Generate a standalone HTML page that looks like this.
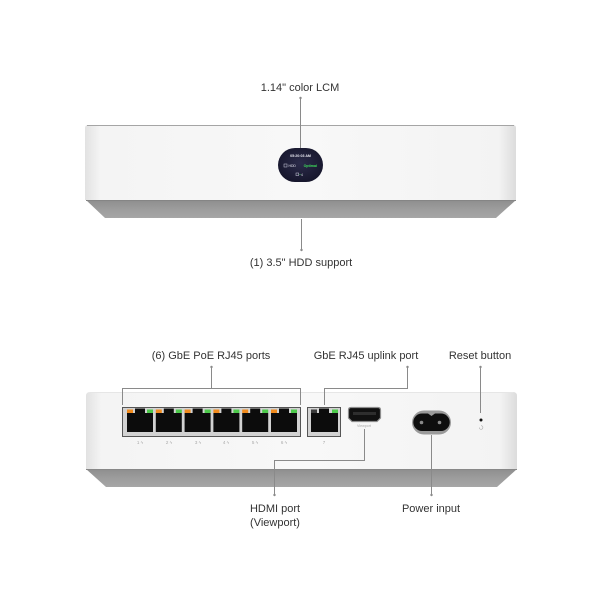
<!DOCTYPE html>
<html>
<head>
<meta charset="utf-8">
<style>
  html,body{margin:0;padding:0;background:#ffffff;}
  svg{display:block;}
  .lbl{font-family:"Liberation Sans",Arial,sans-serif;font-size:11px;fill:#333333;}
  .tiny{font-family:"Liberation Sans",Arial,sans-serif;fill:#a8a8a8;}
</style>
</head>
<body>
<svg width="600" height="600" viewBox="0 0 600 600" xmlns="http://www.w3.org/2000/svg">
  <defs>
    <linearGradient id="bodyH" x1="0" y1="0" x2="1" y2="0">
      <stop offset="0" stop-color="#e2e2e2"/>
      <stop offset="0.035" stop-color="#f4f4f4"/>
      <stop offset="0.5" stop-color="#f8f8f8"/>
      <stop offset="0.96" stop-color="#f3f3f3"/>
      <stop offset="1" stop-color="#dcdcdc"/>
    </linearGradient>
    <linearGradient id="baseV" x1="0" y1="0" x2="0" y2="1">
      <stop offset="0" stop-color="#8e8e8e"/>
      <stop offset="0.5" stop-color="#9c9c9c"/>
      <stop offset="1" stop-color="#a6a6a6"/>
    </linearGradient>
    <radialGradient id="lcd" cx="0.5" cy="0.45" r="0.6">
      <stop offset="0" stop-color="#2b2b4a"/>
      <stop offset="1" stop-color="#15152a"/>
    </radialGradient>
  </defs>

  <!-- ============ TOP DEVICE ============ -->
  <polygon points="86,200 516,200 496,218 105,218" fill="url(#baseV)"/>
  <line x1="86" y1="200.5" x2="516" y2="200.5" stroke="#858585" stroke-width="1"/>
  <path d="M85,128 Q85,125 88,125 L513,125 Q516,125 516,128 L516,200 L85,200 Z" fill="url(#bodyH)"/>
  <line x1="87" y1="125.5" x2="514" y2="125.5" stroke="#a5a5a5" stroke-width="1"/>

  <!-- LCD -->
  <rect x="278" y="148" width="45" height="34" rx="17" ry="17" fill="url(#lcd)"/>
  <text x="300.5" y="157" text-anchor="middle" font-family="Liberation Sans,sans-serif" font-size="3.6" font-weight="bold" fill="#e8e8f0">05:20:03 AM</text>
  <rect x="284" y="164" width="3" height="3" fill="none" stroke="#cfcfe0" stroke-width="0.5"/>
  <text x="288.5" y="167" font-family="Liberation Sans,sans-serif" font-size="3.4" fill="#e0e0ea">HDD</text>
  <text x="317" y="167" text-anchor="end" font-family="Liberation Sans,sans-serif" font-size="3.6" font-weight="bold" fill="#3ddc5a">Optimal</text>
  <rect x="296" y="173" width="2.6" height="2.6" fill="none" stroke="#cfcfe0" stroke-width="0.5"/>
  <circle cx="300" cy="174.5" r="0.5" fill="#3ddc5a"/>
  <text x="301" y="175.8" font-family="Liberation Sans,sans-serif" font-size="3.4" fill="#e0e0ea">4</text>

  <!-- top connectors -->
  <line x1="300.5" y1="98" x2="300.5" y2="148" stroke="#8a8a8a" stroke-width="1"/>
  <circle cx="300.5" cy="98" r="1.2" fill="#8a8a8a"/>
  <text class="lbl" x="300" y="91" text-anchor="middle">1.14" color LCM</text>

  <line x1="301.5" y1="219" x2="301.5" y2="250" stroke="#8a8a8a" stroke-width="1"/>
  <circle cx="301.5" cy="250" r="1.2" fill="#8a8a8a"/>
  <text class="lbl" x="301" y="266" text-anchor="middle">(1) 3.5" HDD support</text>

  <!-- ============ BOTTOM DEVICE ============ -->
  <polygon points="86,469 517,469 497,487 106,487" fill="url(#baseV)"/>
  <line x1="86" y1="469.5" x2="517" y2="469.5" stroke="#888888" stroke-width="1"/>
  <path d="M86,396 Q86,392 90,392 L513,392 Q517,392 517,396 L517,469 L86,469 Z" fill="url(#bodyH)"/>
  <line x1="90" y1="392.5" x2="513" y2="392.5" stroke="#e6e6e6" stroke-width="1"/>

  <!-- 6-port block -->
  <rect x="122.5" y="407.5" width="178" height="29" fill="#d2d2d2" stroke="#555555" stroke-width="1"/>
  <g id="ports">
    <!-- port template repeated -->
    <g transform="translate(126,0)">
      <path d="M1,413 L9,413 L9,408.5 L19,408.5 L19,413 L27,413 L27,432 L1,432 Z" fill="#0c0c0c"/>
      <rect x="1" y="409.5" width="6" height="3.5" fill="#f08a1c"/>
      <rect x="21" y="409.5" width="6" height="3.5" fill="#4cc94a"/>
    </g>
    <g transform="translate(154.8,0)">
      <path d="M1,413 L9,413 L9,408.5 L19,408.5 L19,413 L27,413 L27,432 L1,432 Z" fill="#0c0c0c"/>
      <rect x="1" y="409.5" width="6" height="3.5" fill="#f08a1c"/>
      <rect x="21" y="409.5" width="6" height="3.5" fill="#4cc94a"/>
    </g>
    <g transform="translate(183.6,0)">
      <path d="M1,413 L9,413 L9,408.5 L19,408.5 L19,413 L27,413 L27,432 L1,432 Z" fill="#0c0c0c"/>
      <rect x="1" y="409.5" width="6" height="3.5" fill="#f08a1c"/>
      <rect x="21" y="409.5" width="6" height="3.5" fill="#4cc94a"/>
    </g>
    <g transform="translate(212.4,0)">
      <path d="M1,413 L9,413 L9,408.5 L19,408.5 L19,413 L27,413 L27,432 L1,432 Z" fill="#0c0c0c"/>
      <rect x="1" y="409.5" width="6" height="3.5" fill="#f08a1c"/>
      <rect x="21" y="409.5" width="6" height="3.5" fill="#4cc94a"/>
    </g>
    <g transform="translate(241.2,0)">
      <path d="M1,413 L9,413 L9,408.5 L19,408.5 L19,413 L27,413 L27,432 L1,432 Z" fill="#0c0c0c"/>
      <rect x="1" y="409.5" width="6" height="3.5" fill="#f08a1c"/>
      <rect x="21" y="409.5" width="6" height="3.5" fill="#4cc94a"/>
    </g>
    <g transform="translate(270,0)">
      <path d="M1,413 L9,413 L9,408.5 L19,408.5 L19,413 L27,413 L27,432 L1,432 Z" fill="#0c0c0c"/>
      <rect x="1" y="409.5" width="6" height="3.5" fill="#f08a1c"/>
      <rect x="21" y="409.5" width="6" height="3.5" fill="#4cc94a"/>
    </g>
  </g>
  <!-- port numbers -->
  <text class="tiny" font-size="4.5" x="140" y="444" text-anchor="middle">1 ϟ</text>
  <text class="tiny" font-size="4.5" x="169" y="444" text-anchor="middle">2 ϟ</text>
  <text class="tiny" font-size="4.5" x="198" y="444" text-anchor="middle">3 ϟ</text>
  <text class="tiny" font-size="4.5" x="226" y="444" text-anchor="middle">4 ϟ</text>
  <text class="tiny" font-size="4.5" x="255" y="444" text-anchor="middle">5 ϟ</text>
  <text class="tiny" font-size="4.5" x="284" y="444" text-anchor="middle">6 ϟ</text>

  <!-- port 7 -->
  <rect x="307.5" y="407.5" width="33" height="29" fill="#d2d2d2" stroke="#555555" stroke-width="1"/>
  <path d="M311,413 L319,413 L319,408.5 L329,408.5 L329,413 L338,413 L338,432 L311,432 Z" fill="#0c0c0c"/>
  <rect x="311" y="409.5" width="6" height="3.5" fill="#3a3a3a"/>
  <rect x="332" y="409.5" width="6" height="3.5" fill="#4cc94a"/>
  <text class="tiny" font-size="4.5" x="324" y="444" text-anchor="middle">7</text>

  <!-- HDMI -->
  <path d="M348.5,410 Q348.5,407.5 351,407.5 L378,407.5 Q380.5,407.5 380.5,410 L380.5,418 L377,421.5 L352,421.5 L348.5,418 Z" fill="#111111" stroke="#8d8d8d" stroke-width="1.2"/>
  <rect x="353" y="412" width="23" height="3" fill="#2e2e2e"/>
  <text class="tiny" font-size="3.6" x="364" y="427" text-anchor="middle">Viewport</text>

  <!-- Power -->
  <rect x="412" y="410.5" width="39" height="24" rx="12" ry="12" fill="#9a9a9a"/>
  <path d="M422,413.5 L428,413.5 L431.5,416 L435,413.5 L441,413.5 A8.5,8.5 0 0 1 441,431 L422,431 A8.5,8.5 0 0 1 422,413.5 Z" fill="#0e0e0e"/>
  <circle cx="421.5" cy="422.5" r="1.8" fill="#8a8a8a"/>
  <circle cx="439.5" cy="422.5" r="1.8" fill="#8a8a8a"/>

  <!-- Reset -->
  <circle cx="481" cy="420" r="1.5" fill="#111111"/>
  <path d="M479.3,427.5 A1.8,1.8 0 1 0 481,425.7" fill="none" stroke="#aaaaaa" stroke-width="0.6"/>

  <!-- ===== bottom connectors ===== -->
  <g stroke="#8a8a8a" stroke-width="1" fill="none">
    <!-- 6 ports bracket -->
    <polyline points="211.5,367 211.5,388.5"/>
    <polyline points="122.5,405 122.5,388.5 300.5,388.5 300.5,405"/>
    <!-- uplink -->
    <polyline points="407.5,367 407.5,388.5 324.5,388.5 324.5,405"/>
    <!-- reset -->
    <polyline points="480.5,367 480.5,413"/>
    <!-- HDMI -->
    <polyline points="364.5,429 364.5,460.5 274.5,460.5 274.5,495"/>
    <!-- power -->
    <polyline points="431.5,435 431.5,495"/>
  </g>
  <g fill="#8a8a8a">
    <circle cx="211.5" cy="367" r="1.2"/>
    <circle cx="407.5" cy="367" r="1.2"/>
    <circle cx="480.5" cy="367" r="1.2"/>
    <circle cx="274.5" cy="495" r="1.2"/>
    <circle cx="431.5" cy="495" r="1.2"/>
  </g>

  <text class="lbl" x="211" y="359" text-anchor="middle">(6) GbE PoE RJ45 ports</text>
  <text class="lbl" x="366" y="359" text-anchor="middle">GbE RJ45 uplink port</text>
  <text class="lbl" x="480" y="359" text-anchor="middle">Reset button</text>
  <text class="lbl" x="275" y="512" text-anchor="middle">HDMI port</text>
  <text class="lbl" x="275" y="526" text-anchor="middle">(Viewport)</text>
  <text class="lbl" x="431" y="512" text-anchor="middle">Power input</text>
</svg>
</body>
</html>
